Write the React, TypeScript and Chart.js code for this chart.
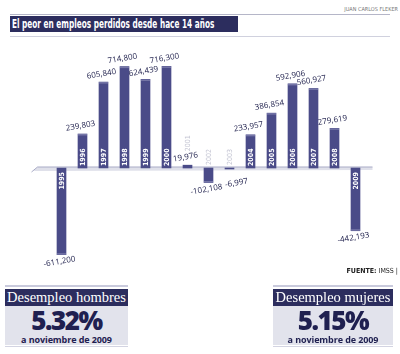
import React, { useEffect, useRef } from "react";
import { Chart, registerables } from "chart.js";

Chart.register(...registerables);

const years = ["1995","1996","1997","1998","1999","2000","2001","2002","2003","2004","2005","2006","2007","2008","2009"];
const empleos = [-611200, 239803, 605840, 714800, 624439, 716300, 19976, -102108, -6997, 233957, 386854, 592906, 560927, 279619, -442193];
const valueLabels = ["-611,200","239,803","605,840","714,800","624,439","716,300","19,976","-102,108","-6,997","233,957","386,854","592,906","560,927","279,619","-442,193"];
const mutedYears = ["2001","2002","2003"];

const title = "El peor en empleos perdidos desde hace 14 años";
const credit = "JUAN CARLOS FLEKER";
const source = "IMSS";
const boxes = [
  { head: "Desempleo hombres", value: "5.32%", sub: "a noviembre de 2009" },
  { head: "Desempleo mujeres", value: "5.15%", sub: "a noviembre de 2009" },
];

const NAVY = "#2c2d5e";
const BAR = "#4a4b88";

const overlay = {
  id: "overlay",
  beforeDatasetsDraw(chart: any) {
    const ctx = chart.ctx;
    const y0 = chart.scales.y.getPixelForValue(0);
    const xs = chart.scales.x;
    const left = xs.getPixelForValue(0) - 30;
    const right = xs.getPixelForValue(years.length - 1) + 17;
    ctx.save();
    ctx.fillStyle = "#dfe0ea";
    ctx.beginPath();
    ctx.moveTo(left + 6, y0 - 1);
    ctx.lineTo(right, y0 - 1);
    ctx.lineTo(right, y0 + 2);
    ctx.lineTo(left + 2, y0 + 3);
    ctx.closePath();
    ctx.fill();
    ctx.strokeStyle = "#a9abc6";
    ctx.lineWidth = 1;
    ctx.beginPath();
    ctx.moveTo(left, y0 + 4);
    ctx.lineTo(left + 6, y0 - 1);
    ctx.lineTo(right, y0 - 1);
    ctx.stroke();
    ctx.restore();
  },
  afterDatasetsDraw(chart: any) {
    const ctx = chart.ctx;
    const meta = chart.getDatasetMeta(0);
    const y0 = chart.scales.y.getPixelForValue(0);
    ctx.save();
    meta.data.forEach((bar: any, i: number) => {
      const v = empleos[i];
      const x = bar.x;
      const yEnd = bar.y;
      if (Math.abs(yEnd - y0) > 3) {
        ctx.fillStyle = "#7677a8";
        ctx.fillRect(x - 4.5, v > 0 ? yEnd : yEnd - 1.5, 9, 1.5);
      }
      const muted = mutedYears.includes(years[i]);
      ctx.save();
      ctx.font = muted ? "7px 'DejaVu Sans Condensed'" : "bold 7px 'DejaVu Sans Condensed'";
      ctx.fillStyle = muted ? "#c3c4d2" : "#ffffff";
      ctx.textBaseline = "middle";
      let ly: number;
      let align: CanvasTextAlign;
      if (muted) {
        if (v > 0) { ly = yEnd - 14; } else { ly = y0 - 3; }
        align = "left";
      } else if (v > 0) {
        ly = y0 - 2; align = "left";
      } else {
        ly = y0 + 4; align = "right";
      }
      ctx.translate(x + 0.5, ly);
      ctx.rotate(-Math.PI / 2);
      ctx.textAlign = align;
      ctx.fillText(years[i], 0, 0);
      ctx.restore();
      ctx.save();
      ctx.font = "8px 'Open Sans'";
      ctx.fillStyle = "#22234f";
      ctx.textAlign = "center";
      ctx.textBaseline = "middle";
      let vx = x - 2, vy: number;
      if (v > 0) {
        vy = yEnd - 8;
      } else {
        vy = Math.max(yEnd + 7, y0 + 15);
        if (yEnd - y0 < 5) vx = x + 7;
      }
      ctx.translate(vx, vy);
      ctx.rotate(-0.17);
      ctx.fillText(valueLabels[i], 0, 0);
      ctx.restore();
    });
    ctx.restore();
  },
};

function BarChart() {
  const ref = useRef<HTMLCanvasElement>(null);
  useEffect(() => {
    if (!ref.current) return;
    const chart = new Chart(ref.current, {
      type: "bar",
      data: {
        labels: years,
        datasets: [{ data: empleos, backgroundColor: BAR, barThickness: 9 }],
      },
      options: {
        responsive: false,
        animation: false,
        layout: { padding: { left: 31, right: 24, top: 10, bottom: 10 } },
        plugins: { legend: { display: false }, tooltip: { enabled: false } },
        scales: {
          x: { display: false },
          y: { display: false, min: -719000, max: 832000 },
        },
      },
      plugins: [overlay],
    });
    return () => chart.destroy();
  }, []);
  return (
    <canvas
      ref={ref}
      width={370}
      height={240}
      style={{ position: "absolute", left: 20, top: 40, width: 370, height: 240 }}
    />
  );
}

function StatBox({ left, width, data }: { left: number; width: number; data: typeof boxes[0] }) {
  return (
    <div style={{ position: "absolute", left, top: 285, width }}>
      <div style={{ height: 2, background: "#c9cadc" }} />
      <div
        style={{
          marginTop: 2,
          height: 17,
          background: NAVY,
          color: "#fff",
          fontFamily: "'Liberation Serif', serif",
          fontSize: 14.5,
          lineHeight: "17px",
          textAlign: "center",
          whiteSpace: "nowrap",
        }}
      >
        {data.head}
      </div>
      <div style={{ height: 39, background: "#e2e3ec", textAlign: "center", color: "#1f2050" }}>
        <div
          style={{
            fontFamily: "'Open Sans', sans-serif",
            fontWeight: 800,
            fontSize: 26,
            lineHeight: "27px",
            letterSpacing: -1.5,
            paddingTop: 1,
          }}
        >
          {data.value}
        </div>
        <div
          style={{
            fontFamily: "'Open Sans', sans-serif",
            fontWeight: 700,
            fontSize: 9,
            lineHeight: "11px",
            letterSpacing: -0.1,
          }}
        >
          {data.sub}
        </div>
      </div>
      <div style={{ height: 1, marginTop: 1, background: "#d3d4e2" }} />
    </div>
  );
}

export default function App() {
  return (
    <div
      style={{
        position: "absolute",
        left: 0,
        top: 0,
        width: 400,
        height: 354,
        background: "#fff",
        overflow: "hidden",
        fontFamily: "'Liberation Sans', sans-serif",
      }}
    >
      <div
        style={{
          position: "absolute",
          right: 2,
          top: 6,
          fontSize: 5.5,
          color: "#777",
          fontFamily: "'Liberation Sans Narrow', 'DejaVu Sans Condensed', sans-serif",
          whiteSpace: "nowrap",
        }}
      >
        {credit}
      </div>
      <div style={{ position: "absolute", left: 10, top: 14, width: 380, height: 1, background: "#b5b6c8" }} />
      <div
        style={{
          position: "absolute",
          left: 10,
          top: 16,
          width: 228,
          height: 16,
          background: NAVY,
          color: "#fff",
          overflow: "hidden",
        }}
      >
        <div
          style={{
            position: "absolute",
            left: 2,
            top: 0,
            fontFamily: "'Liberation Sans Narrow', 'DejaVu Sans Condensed', sans-serif",
            fontWeight: 700,
            fontSize: 12,
            lineHeight: "16px",
            whiteSpace: "nowrap",
            transformOrigin: "0 50%",
            transform: "scaleX(0.68)",
          }}
        >
          {title}
        </div>
      </div>
      <div style={{ position: "absolute", left: 10, top: 36, width: 380, height: 1, background: "#d0d1de" }} />
      <BarChart />
      <div
        style={{
          position: "absolute",
          right: 2,
          top: 267,
          fontSize: 7,
          color: "#222",
          fontFamily: "'Liberation Sans Narrow', 'DejaVu Sans Condensed', sans-serif",
          whiteSpace: "nowrap",
        }}
      >
        <b>FUENTE:</b> {source} |
      </div>
      <StatBox left={5} width={123} data={boxes[0]} />
      <StatBox left={273} width={120} data={boxes[1]} />
    </div>
  );
}
